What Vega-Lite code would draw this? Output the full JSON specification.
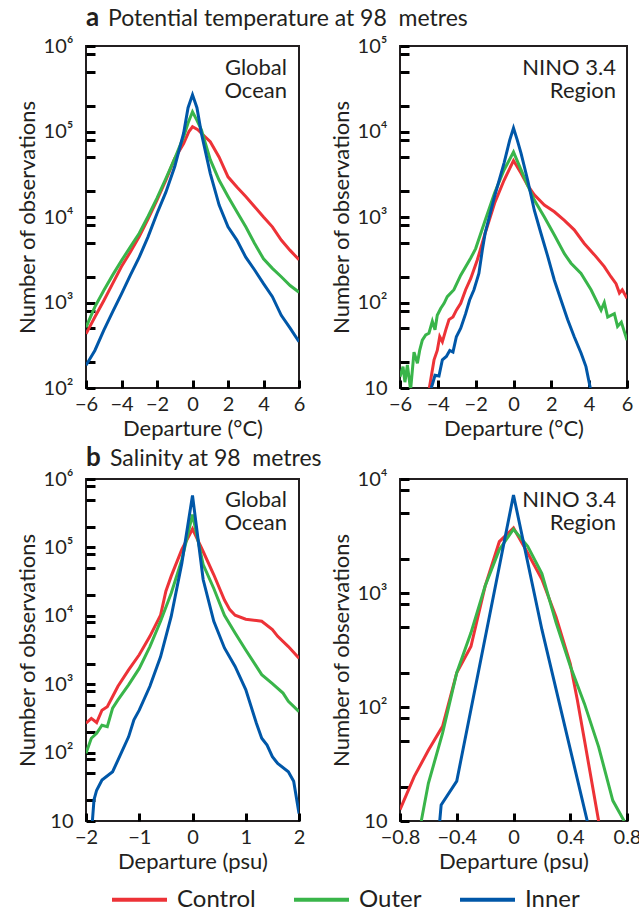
{
  "$schema": "https://vega.github.io/schema/vega-lite/v6.json",
  "background": "white",
  "padding": {"left": 15, "top": 4, "right": 0, "bottom": 0},
  "config": {
    "font": "Lato",
    "view": {"stroke": "#231f20", "strokeWidth": 2},
    "axis": {"labelFont": "Lato", "labelFontSize": 20, "labelColor": "#231f20", "titleFont": "Lato", "titleFontSize": 22, "titleFontWeight": "normal", "titleColor": "#231f20", "grid": false},
    "legend": {"labelFont": "Lato", "labelFontSize": 24, "labelColor": "#231f20"}
  },
  "datasets": {
    "t_global": [
      {"series":"Control","x":-6,"n":430},{"series":"Control","x":-5.5,"n":676},{"series":"Control","x":-5,"n":1050},{"series":"Control","x":-4.5,"n":1660},{"series":"Control","x":-4,"n":2630},{"series":"Control","x":-3.5,"n":3900},{"series":"Control","x":-3,"n":5900},{"series":"Control","x":-2.5,"n":9500},{"series":"Control","x":-2,"n":15800},{"series":"Control","x":-1.5,"n":27000},{"series":"Control","x":-1,"n":48400},{"series":"Control","x":-0.5,"n":72400},{"series":"Control","x":-0.2,"n":100000},{"series":"Control","x":0,"n":113500},{"series":"Control","x":0.3,"n":105000},{"series":"Control","x":0.5,"n":95500},{"series":"Control","x":1,"n":75900},{"series":"Control","x":1.5,"n":50100},{"series":"Control","x":2,"n":29500},{"series":"Control","x":2.5,"n":22400},{"series":"Control","x":3,"n":17400},{"series":"Control","x":3.5,"n":13200},{"series":"Control","x":4,"n":10000},{"series":"Control","x":4.5,"n":7670},{"series":"Control","x":5,"n":5370},{"series":"Control","x":5.5,"n":4070},{"series":"Control","x":6,"n":3160},
      {"series":"Outer","x":-6,"n":513},{"series":"Outer","x":-5.5,"n":890},{"series":"Outer","x":-5,"n":1380},{"series":"Outer","x":-4.5,"n":2090},{"series":"Outer","x":-4,"n":3090},{"series":"Outer","x":-3.5,"n":4470},{"series":"Outer","x":-3,"n":6460},{"series":"Outer","x":-2.5,"n":10200},{"series":"Outer","x":-2,"n":16600},{"series":"Outer","x":-1.5,"n":28200},{"series":"Outer","x":-1,"n":48400},{"series":"Outer","x":-0.5,"n":87100},{"series":"Outer","x":-0.25,"n":126000},{"series":"Outer","x":0,"n":170000},{"series":"Outer","x":0.25,"n":135000},{"series":"Outer","x":0.5,"n":105000},{"series":"Outer","x":1,"n":46800},{"series":"Outer","x":1.5,"n":26900},{"series":"Outer","x":2,"n":17400},{"series":"Outer","x":2.5,"n":11500},{"series":"Outer","x":3,"n":7670},{"series":"Outer","x":3.5,"n":4900},{"series":"Outer","x":4,"n":3240},{"series":"Outer","x":4.5,"n":2510},{"series":"Outer","x":5,"n":2000},{"series":"Outer","x":5.5,"n":1580},{"series":"Outer","x":6,"n":1320},
      {"series":"Inner","x":-6,"n":184},{"series":"Inner","x":-5.5,"n":275},{"series":"Inner","x":-5,"n":473},{"series":"Inner","x":-4.5,"n":776},{"series":"Inner","x":-4,"n":1260},{"series":"Inner","x":-3.5,"n":2090},{"series":"Inner","x":-3,"n":3390},{"series":"Inner","x":-2.5,"n":5890},{"series":"Inner","x":-2,"n":11000},{"series":"Inner","x":-1.5,"n":19500},{"series":"Inner","x":-1,"n":38900},{"series":"Inner","x":-0.5,"n":95500},{"series":"Inner","x":-0.25,"n":190000},{"series":"Inner","x":0,"n":269000},{"series":"Inner","x":0.25,"n":190000},{"series":"Inner","x":0.5,"n":95500},{"series":"Inner","x":1,"n":32400},{"series":"Inner","x":1.5,"n":13800},{"series":"Inner","x":2,"n":7670},{"series":"Inner","x":2.5,"n":5370},{"series":"Inner","x":3,"n":3390},{"series":"Inner","x":3.5,"n":2400},{"series":"Inner","x":4,"n":1660},{"series":"Inner","x":4.5,"n":1170},{"series":"Inner","x":5,"n":708},{"series":"Inner","x":5.5,"n":501},{"series":"Inner","x":6,"n":347}
    ],
    "t_nino": [
      {"series":"Control","x":-4.45,"n":10},{"series":"Control","x":-4.38,"n":12.3},{"series":"Control","x":-4.2,"n":21.4},{"series":"Control","x":-4.03,"n":27.5},{"series":"Control","x":-3.9,"n":39.8},{"series":"Control","x":-3.76,"n":34.7},{"series":"Control","x":-3.58,"n":47.9},{"series":"Control","x":-3.41,"n":63.1},{"series":"Control","x":-3.2,"n":67.6},{"series":"Control","x":-3.02,"n":81.3},{"series":"Control","x":-2.79,"n":97.7},{"series":"Control","x":-2.53,"n":141},{"series":"Control","x":-2.26,"n":191},{"series":"Control","x":-1.91,"n":316},{"series":"Control","x":-1.5,"n":646},{"series":"Control","x":-1,"n":1450},{"series":"Control","x":-0.5,"n":2690},{"series":"Control","x":0,"n":4570},{"series":"Control","x":0.4,"n":3240},{"series":"Control","x":0.75,"n":2340},{"series":"Control","x":1.1,"n":1820},{"series":"Control","x":1.63,"n":1380},{"series":"Control","x":2.16,"n":1150},{"series":"Control","x":2.69,"n":912},{"series":"Control","x":3.21,"n":708},{"series":"Control","x":3.74,"n":490},{"series":"Control","x":4.27,"n":363},{"series":"Control","x":4.8,"n":263},{"series":"Control","x":5.15,"n":200},{"series":"Control","x":5.42,"n":166},{"series":"Control","x":5.6,"n":129},{"series":"Control","x":5.75,"n":141},{"series":"Control","x":6,"n":112},
      {"series":"Outer","x":-6,"n":13.5},{"series":"Outer","x":-5.84,"n":17.8},{"series":"Outer","x":-5.74,"n":11.7},{"series":"Outer","x":-5.61,"n":18.6},{"series":"Outer","x":-5.44,"n":9.5},{"series":"Outer","x":-5.26,"n":26.3},{"series":"Outer","x":-5.08,"n":19.5},{"series":"Outer","x":-4.96,"n":27.5},{"series":"Outer","x":-4.82,"n":36.3},{"series":"Outer","x":-4.64,"n":41.7},{"series":"Outer","x":-4.47,"n":43.7},{"series":"Outer","x":-4.29,"n":60.3},{"series":"Outer","x":-4.15,"n":47.9},{"series":"Outer","x":-4.03,"n":70.8},{"series":"Outer","x":-3.85,"n":85.1},{"series":"Outer","x":-3.67,"n":97.7},{"series":"Outer","x":-3.5,"n":117},{"series":"Outer","x":-3.15,"n":141},{"series":"Outer","x":-2.79,"n":209},{"series":"Outer","x":-2.26,"n":331},{"series":"Outer","x":-2,"n":427},{"series":"Outer","x":-1.5,"n":912},{"series":"Outer","x":-1,"n":1910},{"series":"Outer","x":-0.5,"n":3550},{"series":"Outer","x":0,"n":5750},{"series":"Outer","x":0.4,"n":3550},{"series":"Outer","x":0.75,"n":2340},{"series":"Outer","x":1.1,"n":1580},{"series":"Outer","x":1.63,"n":1000},{"series":"Outer","x":2.16,"n":617},{"series":"Outer","x":2.69,"n":372},{"series":"Outer","x":3.04,"n":288},{"series":"Outer","x":3.57,"n":219},{"series":"Outer","x":4.1,"n":141},{"series":"Outer","x":4.63,"n":81.3},{"series":"Outer","x":4.8,"n":100},{"series":"Outer","x":4.98,"n":67.6},{"series":"Outer","x":5.33,"n":74.1},{"series":"Outer","x":5.5,"n":52.5},{"series":"Outer","x":5.7,"n":58.9},{"series":"Outer","x":6,"n":36.3},
      {"series":"Inner","x":-4.35,"n":10},{"series":"Inner","x":-4.29,"n":11},{"series":"Inner","x":-4.15,"n":14.1},{"series":"Inner","x":-3.94,"n":13.8},{"series":"Inner","x":-3.76,"n":21.4},{"series":"Inner","x":-3.55,"n":23.4},{"series":"Inner","x":-3.37,"n":27.5},{"series":"Inner","x":-3.2,"n":26.3},{"series":"Inner","x":-3.02,"n":39.8},{"series":"Inner","x":-2.79,"n":50.1},{"series":"Inner","x":-2.53,"n":74.1},{"series":"Inner","x":-2.32,"n":107},{"series":"Inner","x":-2.09,"n":141},{"series":"Inner","x":-1.83,"n":219},{"series":"Inner","x":-1.65,"n":407},{"series":"Inner","x":-1.5,"n":646},{"series":"Inner","x":-1,"n":1740},{"series":"Inner","x":-0.5,"n":4270},{"series":"Inner","x":-0.2,"n":7940},{"series":"Inner","x":0,"n":11000},{"series":"Inner","x":0.2,"n":7940},{"series":"Inner","x":0.4,"n":5560},{"series":"Inner","x":0.75,"n":2690},{"series":"Inner","x":1.1,"n":1200},{"series":"Inner","x":1.45,"n":646},{"series":"Inner","x":1.81,"n":347},{"series":"Inner","x":2.16,"n":182},{"series":"Inner","x":2.51,"n":107},{"series":"Inner","x":2.86,"n":63.1},{"series":"Inner","x":3.21,"n":39.8},{"series":"Inner","x":3.57,"n":25.7},{"series":"Inner","x":3.83,"n":17.8},{"series":"Inner","x":4.06,"n":10}
    ],
    "s_global": [
      {"series":"Control","x":-2,"n":269},{"series":"Control","x":-1.9,"n":316},{"series":"Control","x":-1.8,"n":275},{"series":"Control","x":-1.7,"n":417},{"series":"Control","x":-1.6,"n":468},{"series":"Control","x":-1.5,"n":661},{"series":"Control","x":-1.4,"n":933},{"series":"Control","x":-1.2,"n":1620},{"series":"Control","x":-1,"n":2690},{"series":"Control","x":-0.8,"n":5010},{"series":"Control","x":-0.6,"n":10200},{"series":"Control","x":-0.5,"n":22900},{"series":"Control","x":-0.4,"n":38000},{"series":"Control","x":-0.2,"n":93300},{"series":"Control","x":0,"n":186000},{"series":"Control","x":0.2,"n":87100},{"series":"Control","x":0.4,"n":39800},{"series":"Control","x":0.6,"n":17000},{"series":"Control","x":0.7,"n":12300},{"series":"Control","x":0.8,"n":10200},{"series":"Control","x":1,"n":8910},{"series":"Control","x":1.2,"n":8510},{"series":"Control","x":1.3,"n":8320},{"series":"Control","x":1.5,"n":6310},{"series":"Control","x":1.6,"n":5010},{"series":"Control","x":1.8,"n":3550},{"series":"Control","x":2,"n":2400},
      {"series":"Outer","x":-2,"n":97.7},{"series":"Outer","x":-1.9,"n":162},{"series":"Outer","x":-1.8,"n":191},{"series":"Outer","x":-1.7,"n":251},{"series":"Outer","x":-1.6,"n":240},{"series":"Outer","x":-1.5,"n":447},{"series":"Outer","x":-1.4,"n":589},{"series":"Outer","x":-1.2,"n":977},{"series":"Outer","x":-1,"n":1700},{"series":"Outer","x":-0.8,"n":3550},{"series":"Outer","x":-0.6,"n":8320},{"series":"Outer","x":-0.4,"n":21400},{"series":"Outer","x":-0.2,"n":66100},{"series":"Outer","x":0,"n":302000},{"series":"Outer","x":0.2,"n":56000},{"series":"Outer","x":0.4,"n":25100},{"series":"Outer","x":0.6,"n":10200},{"series":"Outer","x":0.8,"n":5620},{"series":"Outer","x":1,"n":3160},{"series":"Outer","x":1.2,"n":1820},{"series":"Outer","x":1.3,"n":1380},{"series":"Outer","x":1.5,"n":1020},{"series":"Outer","x":1.7,"n":741},{"series":"Outer","x":1.8,"n":562},{"series":"Outer","x":2,"n":398},
      {"series":"Inner","x":-1.88,"n":10},{"series":"Inner","x":-1.85,"n":20.4},{"series":"Inner","x":-1.8,"n":28.2},{"series":"Inner","x":-1.7,"n":39.8},{"series":"Inner","x":-1.5,"n":52.5},{"series":"Inner","x":-1.4,"n":77.6},{"series":"Inner","x":-1.2,"n":170},{"series":"Inner","x":-1.1,"n":302},{"series":"Inner","x":-1,"n":417},{"series":"Inner","x":-0.8,"n":933},{"series":"Inner","x":-0.6,"n":2510},{"series":"Inner","x":-0.4,"n":9770},{"series":"Inner","x":-0.2,"n":58900},{"series":"Inner","x":0,"n":575000},{"series":"Inner","x":0.2,"n":33900},{"series":"Inner","x":0.4,"n":8320},{"series":"Inner","x":0.6,"n":3390},{"series":"Inner","x":0.8,"n":1820},{"series":"Inner","x":1,"n":832},{"series":"Inner","x":1.2,"n":269},{"series":"Inner","x":1.3,"n":162},{"series":"Inner","x":1.4,"n":129},{"series":"Inner","x":1.5,"n":87.1},{"series":"Inner","x":1.6,"n":69.2},{"series":"Inner","x":1.8,"n":52.5},{"series":"Inner","x":1.9,"n":38},{"series":"Inner","x":2,"n":12.9}
    ],
    "s_nino": [
      {"series":"Control","x":-0.8,"n":12.6},{"series":"Control","x":-0.7,"n":24.5},{"series":"Control","x":-0.6,"n":41.7},{"series":"Control","x":-0.5,"n":67.6},{"series":"Control","x":-0.4,"n":200},{"series":"Control","x":-0.3,"n":339},{"series":"Control","x":-0.2,"n":1150},{"series":"Control","x":-0.1,"n":2820},{"series":"Control","x":0,"n":3720},{"series":"Control","x":0.1,"n":2240},{"series":"Control","x":0.2,"n":1320},{"series":"Control","x":0.3,"n":617},{"series":"Control","x":0.4,"n":240},{"series":"Control","x":0.45,"n":115},{"series":"Control","x":0.5,"n":51.3},{"series":"Control","x":0.6,"n":10},
      {"series":"Outer","x":-0.65,"n":10},{"series":"Outer","x":-0.6,"n":21.4},{"series":"Outer","x":-0.5,"n":58.9},{"series":"Outer","x":-0.4,"n":200},{"series":"Outer","x":-0.3,"n":447},{"series":"Outer","x":-0.2,"n":1150},{"series":"Outer","x":-0.1,"n":2400},{"series":"Outer","x":0,"n":3630},{"series":"Outer","x":0.1,"n":2570},{"series":"Outer","x":0.2,"n":1480},{"series":"Outer","x":0.3,"n":550},{"series":"Outer","x":0.4,"n":229},{"series":"Outer","x":0.5,"n":107},{"series":"Outer","x":0.6,"n":44.7},{"series":"Outer","x":0.7,"n":15.1},{"series":"Outer","x":0.78,"n":10},
      {"series":"Inner","x":-0.52,"n":10},{"series":"Inner","x":-0.51,"n":13.8},{"series":"Inner","x":-0.4,"n":22.4},{"series":"Inner","x":0,"n":7240},{"series":"Inner","x":0.2,"n":479},{"series":"Inner","x":0.52,"n":10}
    ]
  },
  "columns": 2,
  "bounds": "flush",
  "spacing": {"row": 91, "column": 101},
  "concat": [
    {
      "width": 213, "height": 342,
      "layer": [
        {
          "data": {"name": "t_global"},
          "mark": {"type": "line", "strokeWidth": 3, "clip": true},
          "encoding": {
            "x": {"field": "x", "type": "quantitative", "scale": {"domain": [-6, 6]},
              "axis": {"title": "Departure (°C)", "values": [-6,-4,-2,0,2,4,6], "tickCount": 100, "format": "d", "ticks": true, "domain": false, "tickColor": "black", "tickWidth": 3, "tickSize": -8, "labelFlush": false, "labelOverlap": false, "labelPadding": 14}},
            "y": {"field": "n", "type": "quantitative", "scale": {"type": "log", "domain": [100, 1000000]},
              "axis": {"title": "Number of observations", "values": [100,200,500,800,1000,2000,5000,8000,10000,20000,50000,80000,100000,200000,500000,800000,1000000], "tickCount": 100, "ticks": true, "domain": false, "tickColor": "black", "tickWidth": 3, "tickSize": -9, "labelFlush": false, "labelOverlap": false, "labelPadding": 22, "labelExpr": "abs(log(datum.value)/LN10 - round(log(datum.value)/LN10)) < 0.01 ? (round(log(datum.value)/LN10) == 1 ? '10' : '10' + ['⁰','¹','²','³','⁴','⁵','⁶'][round(log(datum.value)/LN10)]) : ''"}},
            "color": {"field": "series", "type": "nominal", "scale": {"domain": ["Control", "Outer", "Inner"], "range": ["#ed3237", "#39b54a", "#0057a8"]},
              "legend": {"title": null, "orient": "none", "legendX": 24, "legendY": 824, "direction": "horizontal", "symbolType": "stroke", "symbolStrokeWidth": 4, "symbolSize": 3025, "labelOffset": 8, "columnPadding": 30}}
          }
        },
        {
          "data": {"values": [{}]},
          "mark": {"type": "text", "align": "right", "baseline": "alphabetic", "fontSize": 22, "lineHeight": 23, "dx": -12, "color": "#231f20"},
          "encoding": {"x": {"datum": 6}, "y": {"datum": 460000}, "text": {"value": ["Global", "Ocean"]}}
        },
        {
          "data": {"values": [{}]},
          "mark": {"type": "text", "align": "left", "baseline": "alphabetic", "fontSize": 26, "fontWeight": "bold", "color": "#231f20"},
          "encoding": {"x": {"datum": -6}, "y": {"datum": 1710000}, "text": {"value": "a"}}
        },
        {
          "data": {"values": [{}]},
          "mark": {"type": "text", "align": "left", "baseline": "alphabetic", "fontSize": 23, "dx": 22, "color": "#231f20"},
          "encoding": {"x": {"datum": -6}, "y": {"datum": 1710000}, "text": {"value": "Potential temperature at 98\u00a0 metres"}}
        }
      ]
    },
    {
      "width": 227, "height": 342,
      "layer": [
        {
          "data": {"name": "t_nino"},
          "mark": {"type": "line", "strokeWidth": 3, "clip": true},
          "encoding": {
            "x": {"field": "x", "type": "quantitative", "scale": {"domain": [-6, 6]},
              "axis": {"title": "Departure (°C)", "values": [-6,-4,-2,0,2,4,6], "tickCount": 100, "format": "d", "ticks": true, "domain": false, "tickColor": "black", "tickWidth": 3, "tickSize": -8, "labelFlush": false, "labelOverlap": false, "labelPadding": 14}},
            "y": {"field": "n", "type": "quantitative", "scale": {"type": "log", "domain": [10, 100000]},
              "axis": {"title": "Number of observations", "values": [10,20,50,80,100,200,500,800,1000,2000,5000,8000,10000,20000,50000,80000,100000], "tickCount": 100, "ticks": true, "domain": false, "tickColor": "black", "tickWidth": 3, "tickSize": -9, "labelFlush": false, "labelOverlap": false, "labelPadding": 22, "labelExpr": "abs(log(datum.value)/LN10 - round(log(datum.value)/LN10)) < 0.01 ? (round(log(datum.value)/LN10) == 1 ? '10' : '10' + ['⁰','¹','²','³','⁴','⁵','⁶'][round(log(datum.value)/LN10)]) : ''"}},
            "color": {"field": "series", "type": "nominal", "scale": {"domain": ["Control", "Outer", "Inner"], "range": ["#ed3237", "#39b54a", "#0057a8"]},
              "legend": {"title": null, "orient": "none", "legendX": 24, "legendY": 824, "direction": "horizontal", "symbolType": "stroke", "symbolStrokeWidth": 4, "symbolSize": 3025, "labelOffset": 8, "columnPadding": 30}}
          }
        },
        {
          "data": {"values": [{}]},
          "mark": {"type": "text", "align": "right", "baseline": "alphabetic", "fontSize": 22, "lineHeight": 23, "dx": -11, "color": "#231f20"},
          "encoding": {"x": {"datum": 6}, "y": {"datum": 46000}, "text": {"value": ["NINO 3.4", "Region"]}}
        }
      ]
    },
    {
      "width": 213, "height": 342,
      "layer": [
        {
          "data": {"name": "s_global"},
          "mark": {"type": "line", "strokeWidth": 3, "clip": true},
          "encoding": {
            "x": {"field": "x", "type": "quantitative", "scale": {"domain": [-2, 2]},
              "axis": {"title": "Departure (psu)", "values": [-2,-1,0,1,2], "tickCount": 100, "format": "d", "ticks": true, "domain": false, "tickColor": "black", "tickWidth": 3, "tickSize": -8, "labelFlush": false, "labelOverlap": false, "labelPadding": 14}},
            "y": {"field": "n", "type": "quantitative", "scale": {"type": "log", "domain": [10, 1000000]},
              "axis": {"title": "Number of observations", "values": [10,20,50,80,100,200,500,800,1000,2000,5000,8000,10000,20000,50000,80000,100000,200000,500000,800000,1000000], "tickCount": 100, "ticks": true, "domain": false, "tickColor": "black", "tickWidth": 3, "tickSize": -9, "labelFlush": false, "labelOverlap": false, "labelPadding": 22, "labelExpr": "abs(log(datum.value)/LN10 - round(log(datum.value)/LN10)) < 0.01 ? (round(log(datum.value)/LN10) == 1 ? '10' : '10' + ['⁰','¹','²','³','⁴','⁵','⁶'][round(log(datum.value)/LN10)]) : ''"}},
            "color": {"field": "series", "type": "nominal", "scale": {"domain": ["Control", "Outer", "Inner"], "range": ["#ed3237", "#39b54a", "#0057a8"]},
              "legend": {"title": null, "orient": "none", "legendX": 24, "legendY": 824, "direction": "horizontal", "symbolType": "stroke", "symbolStrokeWidth": 4, "symbolSize": 3025, "labelOffset": 8, "columnPadding": 30}}
          }
        },
        {
          "data": {"values": [{}]},
          "mark": {"type": "text", "align": "right", "baseline": "alphabetic", "fontSize": 22, "lineHeight": 23, "dx": -12, "color": "#231f20"},
          "encoding": {"x": {"datum": 2}, "y": {"datum": 390000}, "text": {"value": ["Global", "Ocean"]}}
        },
        {
          "data": {"values": [{}]},
          "mark": {"type": "text", "align": "left", "baseline": "alphabetic", "fontSize": 26, "fontWeight": "bold", "color": "#231f20"},
          "encoding": {"x": {"datum": -2}, "y": {"datum": 1550000}, "text": {"value": "b"}}
        },
        {
          "data": {"values": [{}]},
          "mark": {"type": "text", "align": "left", "baseline": "alphabetic", "fontSize": 23, "dx": 24, "color": "#231f20"},
          "encoding": {"x": {"datum": -2}, "y": {"datum": 1550000}, "text": {"value": "Salinity at 98\u00a0 metres"}}
        }
      ]
    },
    {
      "width": 227, "height": 342,
      "layer": [
        {
          "data": {"name": "s_nino"},
          "mark": {"type": "line", "strokeWidth": 3, "clip": true},
          "encoding": {
            "x": {"field": "x", "type": "quantitative", "scale": {"domain": [-0.8, 0.8]},
              "axis": {"title": "Departure (psu)", "values": [-0.8,-0.4,0,0.4,0.8], "tickCount": 100, "format": ".1~f", "ticks": true, "domain": false, "tickColor": "black", "tickWidth": 3, "tickSize": -8, "labelFlush": false, "labelOverlap": false, "labelPadding": 14}},
            "y": {"field": "n", "type": "quantitative", "scale": {"type": "log", "domain": [10, 10000]},
              "axis": {"title": "Number of observations", "values": [10,20,50,80,100,200,500,800,1000,2000,5000,8000,10000], "tickCount": 100, "ticks": true, "domain": false, "tickColor": "black", "tickWidth": 3, "tickSize": -9, "labelFlush": false, "labelOverlap": false, "labelPadding": 22, "labelExpr": "abs(log(datum.value)/LN10 - round(log(datum.value)/LN10)) < 0.01 ? (round(log(datum.value)/LN10) == 1 ? '10' : '10' + ['⁰','¹','²','³','⁴','⁵','⁶'][round(log(datum.value)/LN10)]) : ''"}},
            "color": {"field": "series", "type": "nominal", "scale": {"domain": ["Control", "Outer", "Inner"], "range": ["#ed3237", "#39b54a", "#0057a8"]},
              "legend": {"title": null, "orient": "none", "legendX": 24, "legendY": 824, "direction": "horizontal", "symbolType": "stroke", "symbolStrokeWidth": 4, "symbolSize": 3025, "labelOffset": 8, "columnPadding": 30}}
          }
        },
        {
          "data": {"values": [{}]},
          "mark": {"type": "text", "align": "right", "baseline": "alphabetic", "fontSize": 22, "lineHeight": 23, "dx": -11, "color": "#231f20"},
          "encoding": {"x": {"datum": 0.8}, "y": {"datum": 5700}, "text": {"value": ["NINO 3.4", "Region"]}}
        }
      ]
    }
  ]
}
